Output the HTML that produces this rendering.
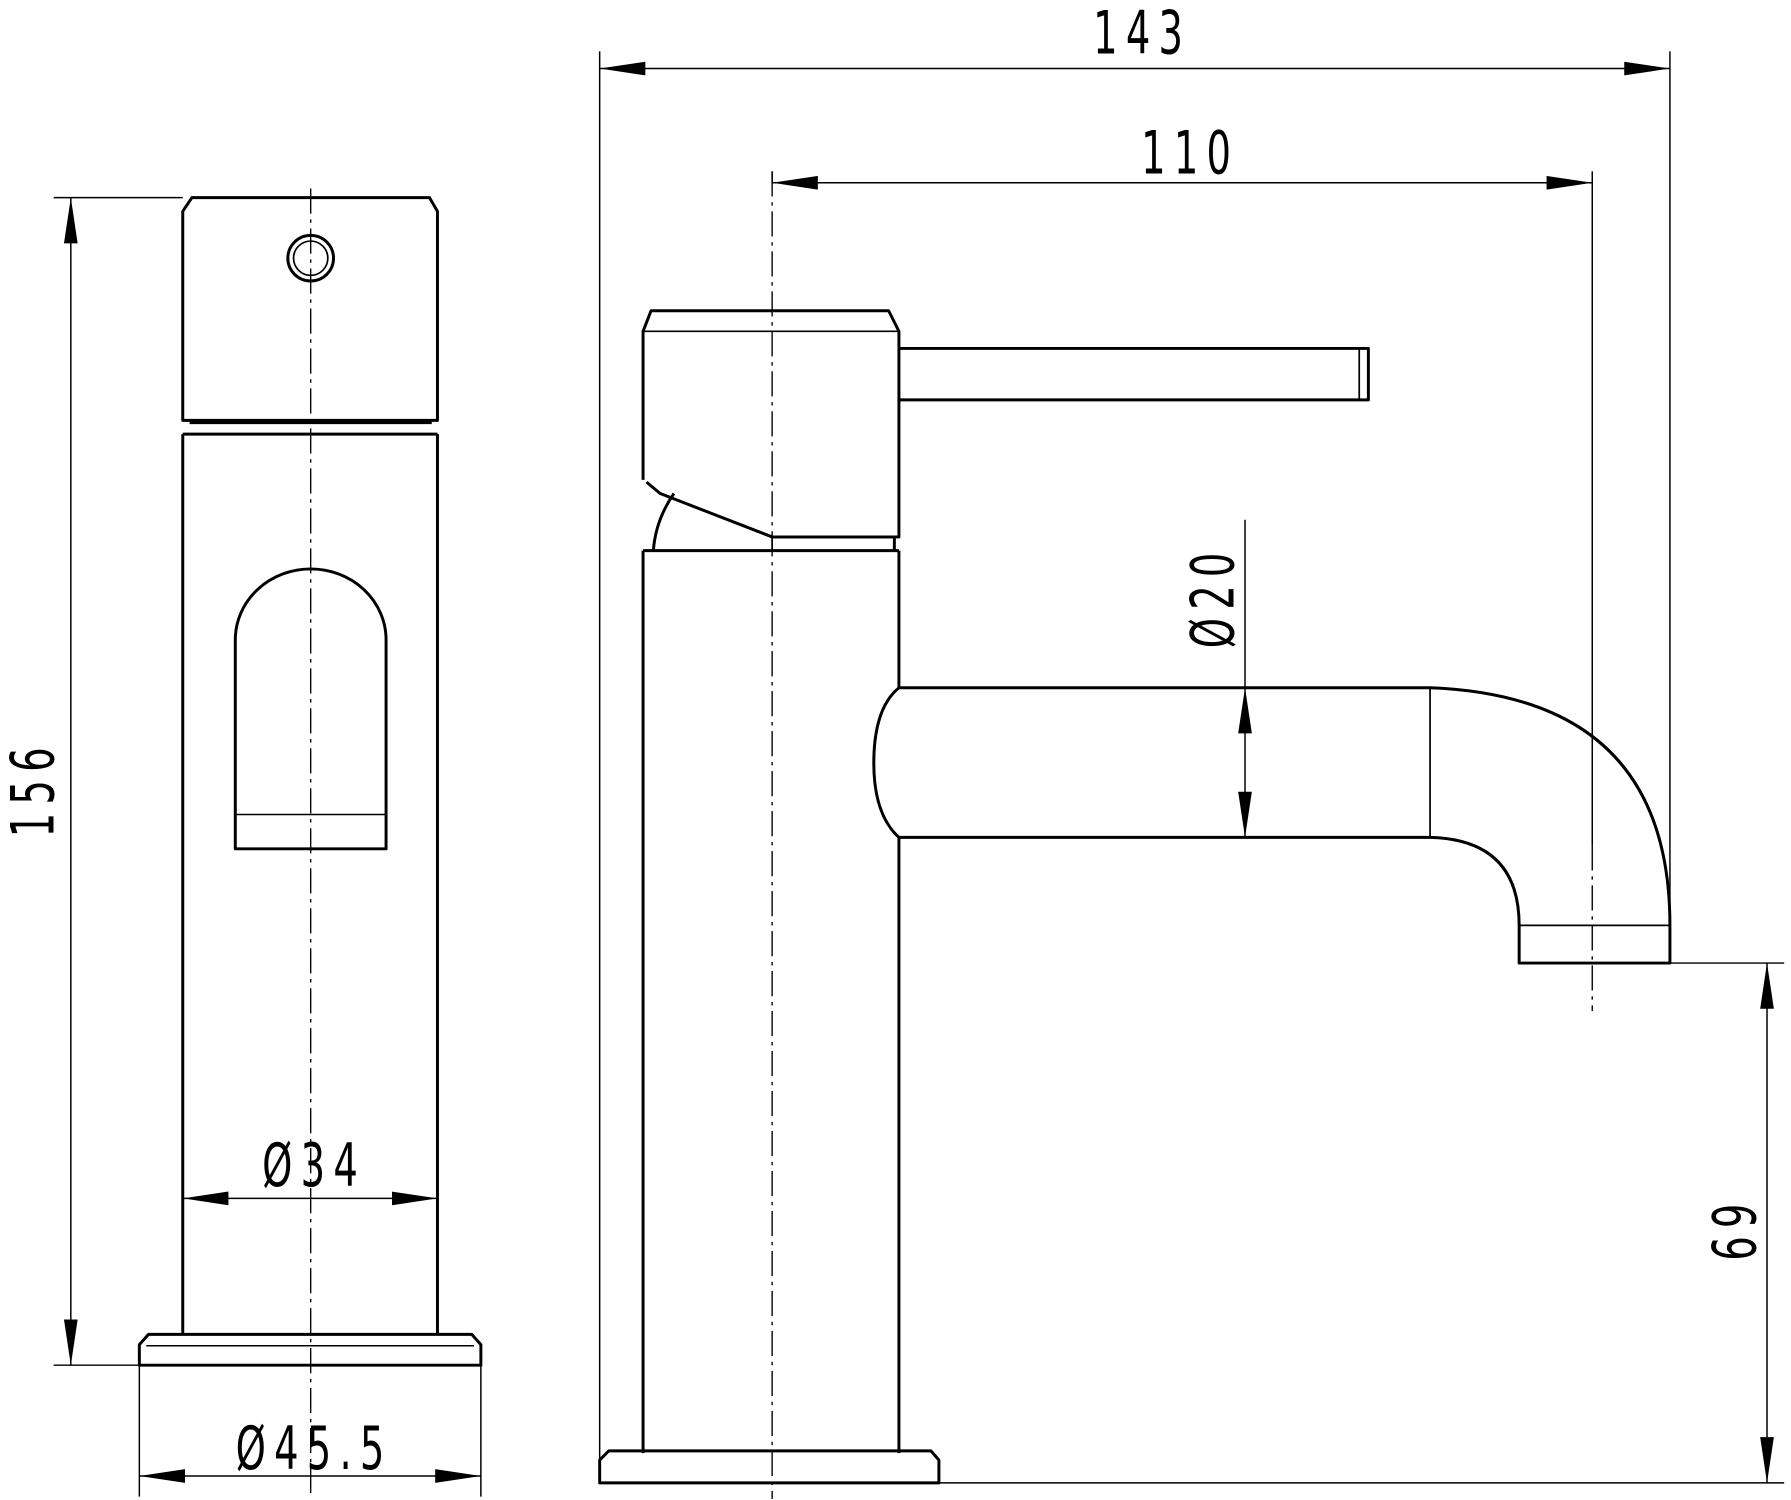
<!DOCTYPE html>
<html><head><meta charset="utf-8"><style>html,body{margin:0;padding:0;background:#fff}svg{display:block}
text{font-family:"DejaVu Sans Condensed","Liberation Sans Narrow","Liberation Sans",sans-serif;fill:#000;letter-spacing:10px}</style></head>
<body>
<svg width="1791" height="1500" viewBox="0 0 1568 1313" preserveAspectRatio="none" xmlns="http://www.w3.org/2000/svg">
<defs>
<marker id="a" viewBox="0 0 40 12" refX="40" refY="6" markerWidth="40" markerHeight="12" markerUnits="userSpaceOnUse" orient="auto-start-reverse">
<path d="M0,0 L40,6 L0,12 Z" fill="#000"/></marker>
</defs>
<g fill="none" stroke="#000" stroke-width="2.6" stroke-linejoin="round">
<path d="M160,368 V185 L168,173 H376 L383,185 V368 Z"/>
<path d="M166,370 H378 M160,380 H383"/>
<circle cx="272" cy="226" r="20"/><circle cx="272" cy="226" r="15" stroke-width="1.5"/>
<path d="M160,380 V1168 M383,380 V1168"/>
<path d="M206,743 V560 A66,62 0 0 1 338,560 V743 Z"/>
<path d="M206,713 H338" stroke-width="1.3"/>
<path d="M122,1195 V1177 L130,1168 H413 L421,1177 V1195 Z"/>
<path d="M128,1178 H415" stroke-width="1.3"/>
<path d="M563,420 V290 L570,272 H778 L787,290 V470 H676 L578,432 L566,422"/>
<path d="M676,470 V482 M563,290 H787" stroke-width="1.5"/>
<path d="M787,305 H1198 V350 H787"/><path d="M1190,305 V350" stroke-width="1.5"/>
<path d="M572,482 Q574,455 590,432"/>
<path d="M563,482 H787 M676,470 H783 V482"/>
<path d="M563,482 V1272 M787,482 V602 M787,733 V1272"/>
<path d="M787,602 H1252 Q1462,610 1462,810 V843 H1330 V810 Q1330,735 1252,733 H787"/>
<path d="M787,602 Q765,620 765,668 Q765,713 787,733"/>
<path d="M1252,602 V733 M1330,810 H1462" stroke-width="1.5"/>
<path d="M525,1298 V1278 L533,1270 H815 L822,1278 V1298 Z"/>
</g>
<g stroke="#000" stroke-width="1.2" stroke-dasharray="22,5,3,5" fill="none">
<path d="M272,165 V1312"/><path d="M676,150 V1312"/><path d="M1394,740 V885"/>
</g>
<g stroke="#000" stroke-width="1.3" fill="none">
<path d="M47,173 H160 M47,1195 H122"/>
<path d="M62,173 V1195" marker-start="url(#a)" marker-end="url(#a)"/>
<path d="M160,1049 H383" marker-start="url(#a)" marker-end="url(#a)"/>
<path d="M122,1195 V1310 M421,1195 V1310"/>
<path d="M122,1292 H421" marker-start="url(#a)" marker-end="url(#a)"/>
<path d="M525,45 V1280 M1462,45 V840 M676,150 V160 M1394,150 V740"/>
<path d="M525,60 H1462" marker-start="url(#a)" marker-end="url(#a)"/>
<path d="M676,160 H1394" marker-start="url(#a)" marker-end="url(#a)"/>
<path d="M1090,455 V602"/>
<path d="M1090,602 V733" marker-start="url(#a)" marker-end="url(#a)"/>
<path d="M1462,843 H1562 M822,1298 H1562"/>
<path d="M1547,843 V1298" marker-start="url(#a)" marker-end="url(#a)"/>
</g>
<g font-size="52">
<text transform="translate(1000,47) scale(0.72,1)" text-anchor="middle">143</text>
<text transform="translate(1042,152) scale(0.72,1)" text-anchor="middle">110</text>
<text transform="translate(47,690) rotate(-90) scale(0.72,1)" text-anchor="middle">156</text>
<text transform="translate(1537,1075) rotate(-90) scale(0.72,1)" text-anchor="middle">69</text>
<text transform="translate(1080,522) rotate(-90) scale(0.72,1)" text-anchor="middle">Ø20</text>
<text transform="translate(275,1038) scale(0.72,1)" text-anchor="middle">Ø34</text>
<text transform="translate(275,1286) scale(0.72,1)" text-anchor="middle">Ø45.5</text>
</g>
</svg>
</body></html>
